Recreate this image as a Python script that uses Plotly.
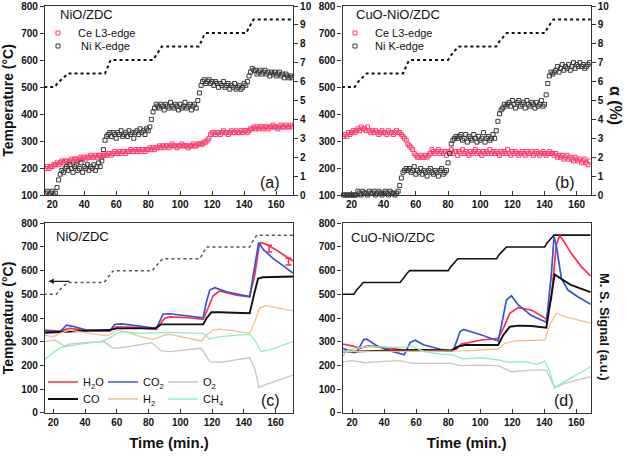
import plotly.graph_objects as go

W, H = 627, 457
FONT = 'Liberation Sans, Arial'

# colours
ce_col = '#ff3d6e'   # Ce L3-edge - pink
ni_col = '#3a3a3a'   # Ni K-edge - dark grey
h2o_col = '#ff2d4f'
co2_col = '#3653d6'
o2_col = '#c6c6c6'
co_col = '#111111'
h2_col = '#f6bf86'
ch4_col = '#8ceec4'

# ---- temperature programme (°C) shared level list, times per panel
temp_lvls = [500, 500, 515, 540, 550, 550, 565, 590, 600, 600, 615, 640,
             650, 650, 665, 690, 700, 700, 715, 740, 750, 750]
temp_t_a = [15, 21.6, 23.5, 28, 30, 53, 54, 55.5, 56.5, 83, 84.5, 87, 88.5,
            111.7, 112.8, 114.8, 116, 141.3, 142.5, 144.6, 145.8, 171]
temp_t_b = [14, 22, 23.5, 27.5, 29.3, 52, 53, 55, 56, 80, 81.5, 85, 86.4,
            110, 111.5, 115, 116.5, 140.3, 141.5, 144.3, 145.5, 169]
temp_t_c = [14, 22, 23.5, 27, 29, 52, 53.5, 56.5, 58, 82.5, 84, 87.5, 89,
            112.3, 113.5, 115.5, 116.5, 143.7, 144.8, 147.2, 148.3, 171]
temp_t_d = [14, 21, 22.5, 25.5, 27, 50, 51.5, 54.5, 56, 80, 81.5, 84.5, 86,
            110.2, 111.5, 115, 116.4, 140.3, 141.5, 144.8, 146.1, 169]

# ---- XAS alpha (%) one reading per minute
ni_a = [0.1, 0.2, 0.0, 0.1, 0.2, 0.0, 0.1,
        0.4, 0.8, 1.1, 1.3, 1.2, 1.4,
        1.5, 1.3, 1.6, 1.4, 1.2, 1.5, 1.6, 1.3, 1.4, 1.7, 1.2, 1.5, 1.4, 1.6,
        1.3, 1.5, 1.4, 1.6, 1.3, 1.5, 1.7,
        1.5, 1.8, 2.4, 2.9, 3.1, 3.2, 3.3,
        3.1, 3.3, 3.2, 3.0, 3.3, 3.2, 3.4, 3.1, 3.2, 3.3, 3.1, 3.4, 3.2, 3.3,
        3.0, 3.3, 3.4, 3.2, 3.5, 3.3, 3.4, 3.2, 3.5,
        3.4, 3.6, 4.0, 4.4, 4.6, 4.8, 4.7,
        4.6, 4.8, 4.7, 4.5, 4.8, 4.7, 4.6, 4.9, 4.7, 4.6, 4.8, 4.7, 4.5, 4.8,
        4.6, 4.7, 4.9, 4.6, 4.7, 4.8, 4.5, 4.7, 4.8, 4.6,
        5.0, 5.4, 5.8, 6.0, 6.1, 5.9, 6.0,
        6.1, 5.9, 6.0, 5.8, 6.0, 5.9, 5.7, 5.9, 5.8, 6.0, 5.7, 5.8, 5.9, 5.6,
        5.8, 5.7, 5.9, 5.6, 5.7, 5.8, 5.6, 5.7, 5.9,
        5.8, 6.0, 6.3, 6.5, 6.7, 6.6,
        6.6, 6.4, 6.5, 6.6, 6.4, 6.5, 6.6, 6.4, 6.5, 6.3, 6.5, 6.4, 6.5, 6.3,
        6.4, 6.5, 6.3, 6.4, 6.2, 6.4, 6.3, 6.2, 6.3, 6.2]
ce_a = [1.4, 1.5, 1.4, 1.5, 1.5, 1.6, 1.6, 1.7, 1.6, 1.7, 1.8, 1.7, 1.8, 1.8, 1.7,
        1.8, 1.9, 1.8, 1.9, 1.9, 1.8, 1.9, 2.0, 1.9, 2.0, 1.9, 2.0, 2.0, 2.1,
        2.0, 2.0, 2.1, 2.0, 2.1, 2.1, 2.0, 2.1, 2.1,
        2.1, 2.2, 2.2, 2.1, 2.2, 2.3, 2.2, 2.2, 2.3, 2.2, 2.3, 2.3, 2.2, 2.3,
        2.3, 2.4, 2.3, 2.3, 2.4, 2.3, 2.4, 2.3, 2.4, 2.4, 2.3, 2.4, 2.4, 2.5,
        2.4, 2.5, 2.4,
        2.5, 2.5, 2.6, 2.5, 2.6, 2.5, 2.6, 2.6, 2.5, 2.6, 2.7, 2.6, 2.6, 2.5,
        2.6, 2.6, 2.7, 2.6, 2.6, 2.6, 2.5, 2.6, 2.6, 2.7, 2.6, 2.6, 2.7, 2.7, 2.7,
        2.7, 2.8, 2.8, 2.9, 3.0, 3.2, 3.3,
        3.3, 3.2, 3.3, 3.3, 3.2, 3.3, 3.4, 3.3, 3.3, 3.2, 3.3, 3.4, 3.3, 3.3,
        3.4, 3.3, 3.3, 3.4, 3.3, 3.4, 3.4, 3.3, 3.4,
        3.5, 3.5, 3.6, 3.5, 3.6, 3.5, 3.6, 3.6, 3.5, 3.6, 3.6, 3.5, 3.6, 3.6,
        3.7, 3.6, 3.6, 3.5, 3.6, 3.7, 3.6, 3.6, 3.7, 3.6, 3.6, 3.7, 3.6]
ni_b = [0.0, 0.0, 0.0, 0.0, 0.0, 0.0, 0.0, 0.0, 0.0,
        0.2, 0.1, 0.0, 0.2, 0.1, 0.1, 0.0, 0.2, 0.1, 0.1, 0.2, 0.0, 0.1, 0.2,
        0.1, 0.0, 0.1, 0.2, 0.1, 0.0, 0.2, 0.1, 0.1, 0.0, 0.1,
        0.2, 0.5, 0.9, 1.2, 1.3, 1.4, 1.3,
        1.4, 1.2, 1.3, 1.5, 1.1, 1.3, 1.2, 1.4, 1.1, 1.3, 1.2, 1.0, 1.3, 1.4,
        1.2, 1.1, 1.3, 1.2, 1.0, 1.3, 1.4, 1.1, 1.2, 1.3,
        1.7, 2.2, 2.7, 2.9, 3.0, 3.1, 3.0,
        3.1, 3.2, 2.9, 3.0, 3.2, 2.8, 3.1, 3.0, 2.9, 3.2, 3.0, 2.8, 3.1, 2.9,
        3.0, 3.3, 2.8, 3.0, 3.1, 2.9, 3.0, 3.2, 3.0,
        3.4, 3.9, 4.3, 4.5, 4.6, 4.8, 4.7,
        4.8, 4.9, 4.7, 5.0, 4.8, 4.6, 4.9, 5.0, 4.7, 4.8, 4.9, 4.6, 5.0, 4.8,
        4.7, 4.9, 4.8, 4.6, 4.9, 4.7, 4.8, 5.0, 4.7, 4.8,
        5.3, 5.9, 6.3, 6.5, 6.4, 6.5,
        6.6, 6.8, 6.5, 6.7, 6.9, 6.6, 6.8, 6.7, 6.9, 6.6, 6.8, 7.0, 6.7, 6.9,
        6.8, 7.0, 6.8, 6.9, 6.7, 6.8, 6.9, 7.0, 6.8]
ce_b = [3.1, 3.2, 3.1, 3.3, 3.2, 3.3, 3.4, 3.3, 3.4, 3.5, 3.4, 3.6, 3.5,
        3.5, 3.4, 3.6, 3.4, 3.3, 3.4, 3.3, 3.4, 3.3, 3.2, 3.3, 3.4, 3.3, 3.3,
        3.2, 3.4, 3.3, 3.3, 3.2, 3.3, 3.4, 3.3,
        3.3, 3.2, 3.1, 3.0, 2.9, 2.7, 2.6, 2.5, 2.4, 2.2, 2.1, 2.0,
        2.0, 2.1, 2.0, 2.0, 2.1, 2.0, 2.1, 2.2,
        2.4, 2.3, 2.2, 2.3, 2.4, 2.2, 2.3, 2.2, 2.3, 2.1,
        2.3, 2.2, 2.4, 2.2, 2.3, 2.3, 2.1, 2.3, 2.2, 2.4,
        2.2, 2.3, 2.2, 2.1, 2.3, 2.2, 2.3, 2.4, 2.2, 2.3,
        2.2, 2.1, 2.3, 2.2, 2.3, 2.2, 2.4, 2.2, 2.3, 2.2,
        2.3, 2.2, 2.1, 2.3, 2.2, 2.3, 2.2, 2.4, 2.2, 2.1,
        2.3, 2.2, 2.3, 2.2, 2.1, 2.2, 2.3, 2.2, 2.1, 2.3,
        2.2, 2.2, 2.3, 2.1, 2.2, 2.3, 2.2, 2.1, 2.2, 2.3,
        2.2, 2.1, 2.2, 2.3, 2.2,
        2.2, 2.1, 2.2, 2.0, 2.1, 2.0, 2.1, 1.9, 2.0, 2.1, 1.9, 2.0, 1.9, 1.8,
        2.0, 1.9, 1.8, 1.9, 1.7, 1.8, 1.9, 1.7, 1.6, 1.8, 1.6]
t_a = list(range(16, 16 + len(ni_a)))
t_b = list(range(15, 15 + len(ni_b)))

# ---- mass spec signals, panel (c) NiO/ZDC
c_h2o_t = [14.8, 24, 30, 40, 55, 60, 70, 85, 90, 93.4, 103.9, 114.4, 117.5, 120.7,
           124.8, 135.3, 143.7, 146.9, 149.6, 151, 154.2, 160.5, 166.8, 171]
c_h2o = [349, 345, 356, 349, 345, 363, 360, 352, 398, 405, 402, 394, 441, 494,
         514, 497, 490, 582, 701, 719, 711, 687, 659, 641]
c_co2_t = [14.8, 24.2, 28.4, 31.5, 41, 55.6, 58.8, 63, 85, 89.2, 93.4, 114.4,
           116.5, 118.6, 121.7, 129, 143.7, 146.9, 149.4, 152.1, 158.4, 164.7, 171]
c_co2 = [346, 342, 370, 366, 349, 346, 373, 375, 356, 417, 418, 401,
         469, 518, 528, 511, 490, 624, 719, 691, 652, 621, 590]
c_o2_t = [14.8, 21, 27, 30, 40, 52, 57, 60, 70, 82, 88, 93.4, 113.3, 118.6,
          124.8, 143.7, 146.9, 149.6, 154.2, 171]
c_o2 = [300, 307, 282, 290, 296, 300, 275, 272, 282, 296, 261, 258, 272, 216,
        213, 232, 187, 106, 120, 159]
c_co_t = [14.8, 25, 40, 55, 60, 84, 88, 93.4, 114.4, 116.5, 119.6, 124.8, 143.7,
          146.9, 149, 152.1, 171]
c_co = [338, 342, 346, 349, 356, 356, 373, 373, 373, 399, 424, 424, 420,
        511, 567, 572, 575]
c_h2_t = [14.8, 20, 24, 30, 40, 50, 55, 60, 65, 75, 83, 90, 93.4, 103.9, 113.3,
          116.5, 120.7, 124.8, 135.3, 143.7, 146.9, 150, 154.2, 171]
c_h2 = [328, 321, 335, 349, 338, 328, 328, 349, 342, 321, 310, 328, 331, 317, 303,
        328, 349, 353, 345, 335, 384, 443, 452, 430]
c_ch4_t = [14.8, 20, 25, 30, 40, 50, 55, 60, 65, 75, 85, 93.4, 114.4, 118.6, 124.8,
           143.7, 146.9, 151, 156.3, 171]
c_ch4 = [225, 254, 276, 282, 293, 300, 314, 335, 342, 335, 338, 339, 335, 311, 321,
         331, 307, 258, 265, 300]
c_err_t = [155.9, 168.2]
c_err_y = [707, 652]
c_err_minus = [28, 28]

# ---- mass spec signals, panel (d) CuO-NiO/ZDC
d_h2o_t = [14, 20, 25, 30, 35, 45, 55, 70, 82, 85, 88, 90.5, 100.9, 111.2, 114.4,
           118.5, 123.7, 132, 141.3, 144.4, 147.5, 149.6, 151.7, 156.9, 163.1, 169]
d_h2o = [290, 282, 272, 282, 279, 272, 262, 265, 261, 268, 290, 293, 307, 314, 356,
         420, 444, 434, 396, 483, 708, 748, 729, 673, 617, 577]
d_co2_t = [14, 21, 23.1, 27.3, 29.3, 35.6, 43.9, 50, 52.6, 56.3, 59.4, 64.6, 75,
           81.2, 83.3, 87.4, 89.5, 100.9, 111.2, 113.3, 116.4, 119.5, 123.7, 132,
           141.3, 144.4, 146.1, 147.5, 150.7, 154.8, 161, 169]
d_co2 = [272, 254, 258, 310, 310, 282, 261, 251, 245, 297, 306, 287, 268,
         261, 265, 342, 352, 328, 303, 370, 476, 494, 455, 410,
         382, 581, 743, 708, 567, 518, 490, 458]
d_o2_t = [14, 20, 28, 35, 50, 58, 70, 82, 88, 100, 111.2, 119.5, 132, 141.3, 146.5,
          152.7, 169]
d_o2 = [215, 220, 211, 215, 220, 208, 208, 208, 199, 201, 199, 173, 180, 180, 106,
        124, 152]
d_co_t = [14, 20, 40, 60, 82, 86, 90.5, 111.2, 114.4, 118.5, 123.7, 132, 141.3,
          144.4, 146.5, 150.7, 156.9, 169]
d_co = [258, 258, 262, 265, 263, 279, 286, 286, 328, 363, 368, 366, 359,
        483, 584, 565, 539, 509]
d_h2_t = [14, 40, 80, 90.5, 111.2, 115.4, 121.6, 140.3, 143.4, 147.5, 152.7, 169]
d_h2 = [258, 258, 258, 261, 269, 293, 303, 307, 370, 420, 406, 378]
d_ch4_t = [14, 17, 22, 30, 45, 52, 57, 60, 65, 75, 83, 88, 90.5, 100.9, 111.2,
           117.5, 127.8, 135.1, 140.3, 143.4, 146.5, 150.7, 169]
d_ch4 = [237, 262, 272, 279, 276, 276, 282, 272, 258, 248, 244, 230, 227, 232, 223,
         213, 216, 204, 218, 173, 103, 124, 194]

gas_names = ['H<sub>2</sub>O', 'CO<sub>2</sub>', 'O<sub>2</sub>',
             'CO', 'H<sub>2</sub>', 'CH<sub>4</sub>']
gas_cols = [h2o_col, co2_col, o2_col, co_col, h2_col, ch4_col]
gas_w = [1.7, 1.7, 1.3, 1.9, 1.3, 1.3]

fig = go.Figure()

# (a)
fig.add_scatter(x=temp_t_a, y=temp_lvls, mode='lines', xaxis='x', yaxis='y',
                line=dict(color='#111', width=2, dash='dot'), showlegend=False)
fig.add_scatter(x=t_a, y=ce_a, mode='markers', xaxis='x', yaxis='y2', name='Ce L3-edge',
                marker=dict(symbol='square-open', size=4, color=ce_col, line=dict(width=1)),
                legend='legend')
fig.add_scatter(x=t_a, y=ni_a, mode='markers', xaxis='x', yaxis='y2', name=' Ni K-edge',
                marker=dict(symbol='square-open', size=4, color=ni_col, line=dict(width=1)),
                legend='legend2')
# (b)
fig.add_scatter(x=temp_t_b, y=temp_lvls, mode='lines', xaxis='x2', yaxis='y3',
                line=dict(color='#111', width=2, dash='dot'), showlegend=False)
fig.add_scatter(x=t_b, y=ce_b, mode='markers', xaxis='x2', yaxis='y4', name='Ce L3-edge',
                marker=dict(symbol='square-open', size=4, color=ce_col, line=dict(width=1)),
                legend='legend3')
fig.add_scatter(x=t_b, y=ni_b, mode='markers', xaxis='x2', yaxis='y4', name='Ni K-edge',
                marker=dict(symbol='square-open', size=4, color=ni_col, line=dict(width=1)),
                legend='legend4', cliponaxis=False)

# (c)
fig.add_scatter(x=temp_t_c, y=temp_lvls, mode='lines', xaxis='x3', yaxis='y5',
                line=dict(color='#555', width=1.5, dash='dot'), showlegend=False)
c_series = [(c_h2o_t, c_h2o), (c_co2_t, c_co2), (c_o2_t, c_o2),
            (c_co_t, c_co), (c_h2_t, c_h2), (c_ch4_t, c_ch4)]
for i, (tt, vv) in enumerate(c_series):
    fig.add_scatter(x=tt, y=vv, mode='lines', xaxis='x3', yaxis='y5', name=gas_names[i],
                    line=dict(color=gas_cols[i], width=gas_w[i]),
                    legend='legend5' if i < 3 else 'legend6')
fig.add_scatter(x=c_err_t, y=c_err_y, mode='markers', xaxis='x3', yaxis='y5',
                marker=dict(size=1, color=h2o_col), showlegend=False,
                error_y=dict(type='data', symmetric=False, array=[0, 0],
                             arrayminus=c_err_minus, color=h2o_col, thickness=1.5, width=3))

# (d)
fig.add_scatter(x=temp_t_d, y=temp_lvls, mode='lines', xaxis='x4', yaxis='y6',
                line=dict(color='#111', width=1.6), showlegend=False)
d_series = [(d_h2o_t, d_h2o), (d_co2_t, d_co2), (d_o2_t, d_o2),
            (d_co_t, d_co), (d_h2_t, d_h2), (d_ch4_t, d_ch4)]
for i, (tt, vv) in enumerate(d_series):
    fig.add_scatter(x=tt, y=vv, mode='lines', xaxis='x4', yaxis='y6',
                    line=dict(color=gas_cols[i], width=gas_w[i]), showlegend=False)

tickf = dict(family=FONT, size=10, color='#111', weight='bold')
ax = dict(showline=True, linecolor='#333', linewidth=1.2, mirror=True, showgrid=False,
          zeroline=False, ticks='outside', ticklen=4, tickcolor='#333', tickfont=tickf,
          automargin=False)
xl = [45 / W, 293 / W]
xr = [342.5 / W, 590.7 / W]
ytop = [1 - 195 / H, 1 - 6 / H]
ybot = [1 - 412.7 / H, 1 - 223.3 / H]
ttl = dict(family=FONT, size=14, color='#111', weight='bold')
xttl = dict(family=FONT, size=15, color='#111', weight='bold')


def leg(x, y, orient='v', ew=None):
    d = dict(x=x / W, y=1 - y / H, xanchor='left', yanchor='middle', orientation=orient,
             bgcolor='rgba(0,0,0,0)', font=dict(family=FONT, size=11, color='#111'),
             itemwidth=30, itemclick=False)
    if ew:
        d['entrywidth'] = ew
    return d


fig.update_layout(
    width=W, height=H, margin=dict(l=0, r=0, t=0, b=0, autoexpand=False),
    plot_bgcolor='white', paper_bgcolor='white',
    xaxis=dict(ax, domain=xl, anchor='y', range=[15.5, 170.5], dtick=20, ticks='inside'),
    yaxis=dict(ax, domain=ytop, anchor='x', range=[100, 800], dtick=100,
               title=dict(text='Temperature (°C)', font=ttl, standoff=6)),
    yaxis2=dict(ax, overlaying='y', anchor='x', side='right', range=[0, 10], dtick=1,
                mirror=False),
    xaxis2=dict(ax, domain=xr, anchor='y3', range=[14.4, 168.7], dtick=20, ticks='inside'),
    yaxis3=dict(ax, domain=ytop, anchor='x2', range=[100, 800], dtick=100),
    yaxis4=dict(ax, overlaying='y3', anchor='x2', side='right', range=[0, 10], dtick=1,
                mirror=False),
    xaxis3=dict(ax, domain=xl, anchor='y5', range=[14.8, 171], dtick=20, ticks='inside',
                title=dict(text='Time (min.)', font=xttl, standoff=10)),
    yaxis5=dict(ax, domain=ybot, anchor='x3', range=[0, 800], dtick=100,
                title=dict(text='Temperature (°C)', font=ttl, standoff=6)),
    xaxis4=dict(ax, domain=xr, anchor='y6', range=[14, 169], dtick=20, ticks='inside',
                title=dict(text='Time (min.)', font=xttl, standoff=10)),
    yaxis6=dict(ax, domain=ybot, anchor='x4', range=[0, 800], dtick=100),
    legend=leg(38, 33), legend2=leg(38, 46),
    legend3=leg(335, 33), legend4=leg(335, 46),
    legend5=leg(43, 382, 'h', 15), legend6=leg(43, 399, 'h', 15),
)

lab = dict(family=FONT, size=13, color='#111')
plab = dict(family=FONT, size=16, color='#111')
notes = [
    ('NiO/ZDC', 58, 15, 'left', lab),
    ('CuO-NiO/ZDC', 354, 15, 'left', lab),
    ('NiO/ZDC', 54, 236, 'left', lab),
    ('CuO-NiO/ZDC', 349, 237, 'left', lab),
    ('(a)', 270, 182, 'center', plab),
    ('(b)', 565, 182, 'center', plab),
    ('(c)', 270, 400, 'center', plab),
    ('(d)', 564, 400, 'center', plab),
]
for txt, x, y, anc, f in notes:
    fig.add_annotation(text=txt, x=x / W, y=1 - y / H, xref='paper', yref='paper',
                       xanchor=anc, yanchor='middle', showarrow=False, font=f)
fig.add_annotation(text='α (%)', x=615 / W, y=1 - 105 / H, xref='paper', yref='paper',
                   xanchor='center', yanchor='middle', textangle=90, showarrow=False,
                   font=dict(family=FONT, size=16, color='#111', weight='bold'))
fig.add_annotation(text='M. S. Signal (a.u.)', x=605 / W, y=1 - 327 / H, xref='paper',
                   yref='paper', xanchor='center', yanchor='middle', textangle=90,
                   showarrow=False,
                   font=dict(family=FONT, size=13, color='#111', weight='bold'))
# arrow pointing to the temperature axis in (c)
fig.add_annotation(x=17, y=555, ax=31, ay=555, xref='x3', yref='y5', axref='x3',
                   ayref='y5', showarrow=True, arrowhead=2, arrowsize=0.9,
                   arrowwidth=1.2, arrowcolor='#222', text='')

# the page body has a default 8px margin; drop it so the figure sits at 0,0
fig.write_html("out.html", config={'displayModeBar': False},
               post_script="document.body.style.margin = '0';")
